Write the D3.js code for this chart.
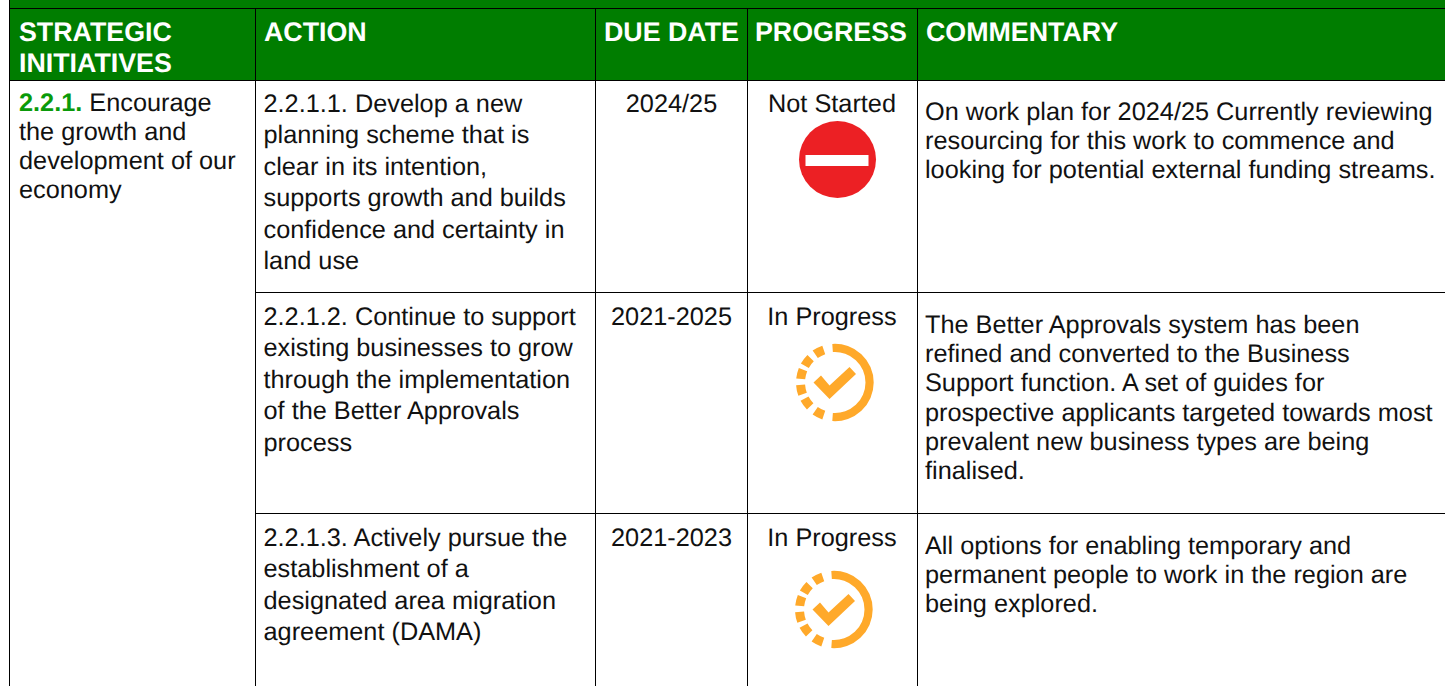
<!DOCTYPE html>
<html>
<head>
<meta charset="utf-8">
<script src="https://cdn.jsdelivr.net/npm/d3@7"></script>
<style>
  html, body { margin: 0; padding: 0; background: #fff; overflow: hidden; }
  text { font-family: "Liberation Sans", Arial, sans-serif; fill: #111; text-rendering: geometricPrecision; }
</style>
</head>
<body>
<div id="chart"></div>
<script>
// table content, one entry per printed line
const headers = [["STRATEGIC", "INITIATIVES"], ["ACTION"], ["DUE DATE"], ["PROGRESS"], ["COMMENTARY"]];
const initiativeCode = "2.2.1.";
const initiativeLines = [" Encourage", "the growth and", "development of our", "economy"];
const actions = [
  ["2.2.1.1. Develop a new", "planning scheme that is", "clear in its intention,", "supports growth and builds", "confidence and certainty in", "land use"],
  ["2.2.1.2. Continue to support", "existing businesses to grow", "through the implementation", "of the Better Approvals", "process"],
  ["2.2.1.3. Actively pursue the", "establishment of a", "designated area migration", "agreement (DAMA)"]
];
const dueDates = ["2024/25", "2021-2025", "2021-2023"];
const progress = ["Not Started", "In Progress", "In Progress"];
const commentary = [
  ["On work plan for 2024/25 Currently reviewing", "resourcing for this work to commence and", "looking for potential external funding streams."],
  ["The Better Approvals system has been", "refined and converted to the Business", "Support function. A set of guides for", "prospective applicants targeted towards most", "prevalent new business types are being", "finalised."],
  ["All options for enabling temporary and", "permanent people to work in the region are", "being explored."]
];

const width = 1445, height = 686;
const green = "#007d00", line = "#000";
const bodySize = "25.3px";

const svg = d3.select("#chart").append("svg")
  .attr("width", width).attr("height", height)
  .style("display", "block");

// column edges and row tops
const colX = d3.scaleOrdinal([0, 1, 2, 3, 4, 5], [9.5, 255.5, 595.5, 747.5, 917.5, 1445]);
const rowY = d3.scaleOrdinal([0, 1, 2, 3], [80.5, 292.5, 513.5, 686]);

// header band
svg.append("rect").attr("x", 10).attr("y", 0).attr("width", width - 10).attr("height", 80).attr("fill", green);

// grid
const grid = svg.append("g").attr("stroke", line).attr("stroke-width", 1);
grid.append("line").attr("x1", 9.5).attr("x2", width).attr("y1", 8.5).attr("y2", 8.5);
grid.selectAll(".h").data([0, 1, 2]).enter().append("line")
  .attr("x1", d => d === 0 ? colX(0) : colX(1)).attr("x2", width)
  .attr("y1", d => rowY(d)).attr("y2", d => rowY(d));
grid.append("line").attr("x1", colX(0)).attr("x2", colX(0)).attr("y1", 0).attr("y2", height);
grid.selectAll(".v").data([1, 2, 3, 4]).enter().append("line")
  .attr("x1", d => colX(d)).attr("x2", d => colX(d))
  .attr("y1", 8.5).attr("y2", height);

// header text
const headerX = [19, 264, 604, 755, 926];
svg.append("g").selectAll("g").data(headers).enter().append("g").each(function(d, i) {
  d3.select(this).selectAll("text").data(d).enter().append("text")
    .attr("x", headerX[i])
    .attr("y", (t, j) => 41 + j * 31)
    .style("font-size", "26.8px")
    .style("font-weight", "bold")
    .style("fill", "#fff")
    .text(t => t);
});

// first column, green bold code then text
const firstCol = svg.append("g");
const firstLine = firstCol.append("text").attr("x", 19).attr("y", 111).style("font-size", bodySize);
firstLine.append("tspan").style("font-weight", "bold").style("fill", "#0a9a0a").text(initiativeCode);
firstLine.append("tspan").text(initiativeLines[0]);
firstCol.selectAll(".rest").data(initiativeLines.slice(1)).enter().append("text")
  .attr("x", 19).attr("y", (d, i) => 140 + i * 29)
  .style("font-size", bodySize).text(d => d);

// action column
const actionTop = [112, 325, 546];
actions.forEach((lines, r) => {
  svg.append("g").selectAll("text").data(lines).enter().append("text")
    .attr("x", 263.5).attr("y", (d, i) => actionTop[r] + i * 31.4)
    .style("font-size", bodySize).text(d => d);
});

// due date and progress, centred in their columns
dueDates.forEach((d, r) => {
  svg.append("text").attr("x", 671.5).attr("y", actionTop[r])
    .attr("text-anchor", "middle").style("font-size", bodySize).text(d);
});
progress.forEach((d, r) => {
  svg.append("text").attr("x", 832).attr("y", actionTop[r])
    .attr("text-anchor", "middle").style("font-size", bodySize).text(d);
});

// commentary column
const commentTop = [120, 333, 554];
commentary.forEach((lines, r) => {
  svg.append("g").selectAll("text").data(lines).enter().append("text")
    .attr("x", 925).attr("y", (d, i) => commentTop[r] + i * 29.2)
    .style("font-size", bodySize).text(d => d);
});

// status icons
const rad = d => d * Math.PI / 180;

function notStartedIcon(cx, cy) {
  const g = svg.append("g").attr("transform", `translate(${cx},${cy})`);
  g.append("circle").attr("r", 38.5).attr("fill", "#ec2024");
  g.append("rect").attr("x", -32).attr("y", -4.5).attr("width", 63).attr("height", 11).attr("fill", "#fff");
}

const dashAngles = [-27, -53, -76, -102, -126, -153];

function inProgressIcon(cx, cy) {
  const g = svg.append("g").attr("transform", `translate(${cx},${cy})`).attr("fill", "#ffa92a");
  const arc = d3.arc().innerRadius(30.5).outerRadius(38.7);
  const dash = d3.arc().innerRadius(30).outerRadius(39);
  g.append("path").attr("d", arc({ startAngle: rad(-4), endAngle: rad(184) }));
  g.selectAll(".dash").data(dashAngles).enter().append("path")
    .attr("d", a => dash({ startAngle: rad(a - 8), endAngle: rad(a + 8) }));
  g.append("path").attr("d", "M-21.5,0 L-14,-7 L-5.5,3 L14.5,-15.5 L21,-8.5 L-5.5,16.5 Z");
}

notStartedIcon(837.5, 159.5);
inProgressIcon(835, 382.5);
inProgressIcon(834, 609.5);
</script>
</body>
</html>
